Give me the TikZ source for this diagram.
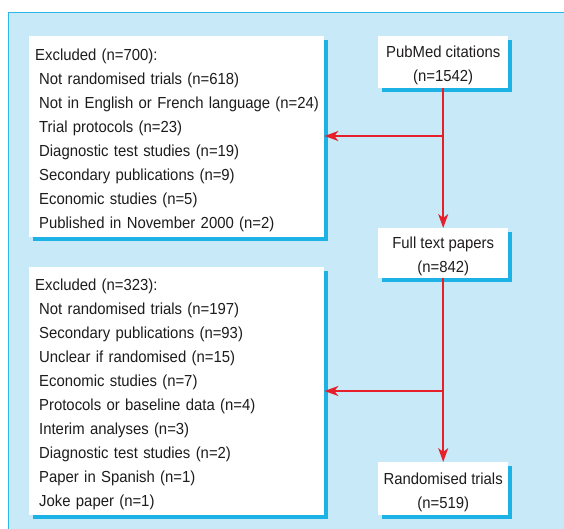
\documentclass[tikz,border=0pt]{standalone}
\usepackage{fontspec}
\setmainfont{Liberation Sans}[FakeStretch=0.93]
\usetikzlibrary{arrows.meta,shadows}
\definecolor{bgblue}{RGB}{200,233,248}
\definecolor{edgeblue}{RGB}{45,182,232}
\definecolor{shadowblue}{RGB}{28,178,230}
\definecolor{arrred}{RGB}{230,32,42}
\definecolor{textcol}{RGB}{30,28,28}
\newcommand\tstrut{\rule{0pt}{18pt}}
\begin{document}
\begin{tikzpicture}[x=1pt,y=-1pt,
  box/.style={fill=white, inner ysep=0pt, inner xsep=4pt, text=textcol,
    font=\fontsize{16}{24}\selectfont,
    drop shadow={shadow xshift=3.5pt, shadow yshift=-3.5pt, fill=shadowblue, opacity=1}},
  listbox/.style={box, anchor=north west, minimum width=295pt, text width=287pt, align=left},
  smallbox/.style={box, anchor=north west, minimum width=130pt, align=center},
  arr/.style={draw=arrred, line width=1.6pt, -{Stealth[length=14pt,width=10pt,inset=4pt]}}]
\useasboundingbox (0,0) rectangle (564,529);
% background panel
\fill[bgblue] (8,13) rectangle (566,531);
\draw[edgeblue, line width=1pt] (8,531) -- (8,13) -- (566,13);
% boxes
\node[listbox, minimum height=201pt] (ex1) at (29,36) {\tstrut\hspace*{2pt}\mbox{Excluded (n=700):}\\
\hspace*{6pt}\mbox{Not randomised trials (n=618)}\\
\hspace*{6pt}\mbox{Not in English or French language (n=24)}\\
\hspace*{6pt}\mbox{Trial protocols (n=23)}\\
\hspace*{6pt}\mbox{Diagnostic test studies (n=19)}\\
\hspace*{6pt}\mbox{Secondary publications (n=9)}\\
\hspace*{6pt}\mbox{Economic studies (n=5)}\\
\hspace*{6pt}\mbox{Published in November 2000 (n=2)}};
\node[listbox, minimum height=248pt] (ex2) at (29,267) {\tstrut\hspace*{2pt}\mbox{Excluded (n=323):}\\
\hspace*{6pt}\mbox{Not randomised trials (n=197)}\\
\hspace*{6pt}\mbox{Secondary publications (n=93)}\\
\hspace*{6pt}\mbox{Unclear if randomised (n=15)}\\
\hspace*{6pt}\mbox{Economic studies (n=7)}\\
\hspace*{6pt}\mbox{Protocols or baseline data (n=4)}\\
\hspace*{6pt}\mbox{Interim analyses (n=3)}\\
\hspace*{6pt}\mbox{Diagnostic test studies (n=2)}\\
\hspace*{6pt}\mbox{Paper in Spanish (n=1)}\\
\hspace*{6pt}\mbox{Joke paper (n=1)}};
\node[smallbox, minimum height=52pt] (pub) at (378,36) {\tstrut PubMed citations\\(n=1542)};
\node[smallbox, minimum height=50pt] (full) at (378,228) {\tstrut Full text papers\\(n=842)};
\node[smallbox, minimum height=53pt] (rand) at (378,462) {\tstrut Randomised trials\\(n=519)};
% connectors
\coordinate (b1) at (443,136);
\coordinate (b2) at (443,391);
\draw[arr] (pub.south) -- (full.north);
\draw[arr] (b1) -- (b1 -| ex1.east);
\draw[arr] (full.south) -- (rand.north);
\draw[arr] (b2) -- (b2 -| ex2.east);
\end{tikzpicture}
\end{document}
